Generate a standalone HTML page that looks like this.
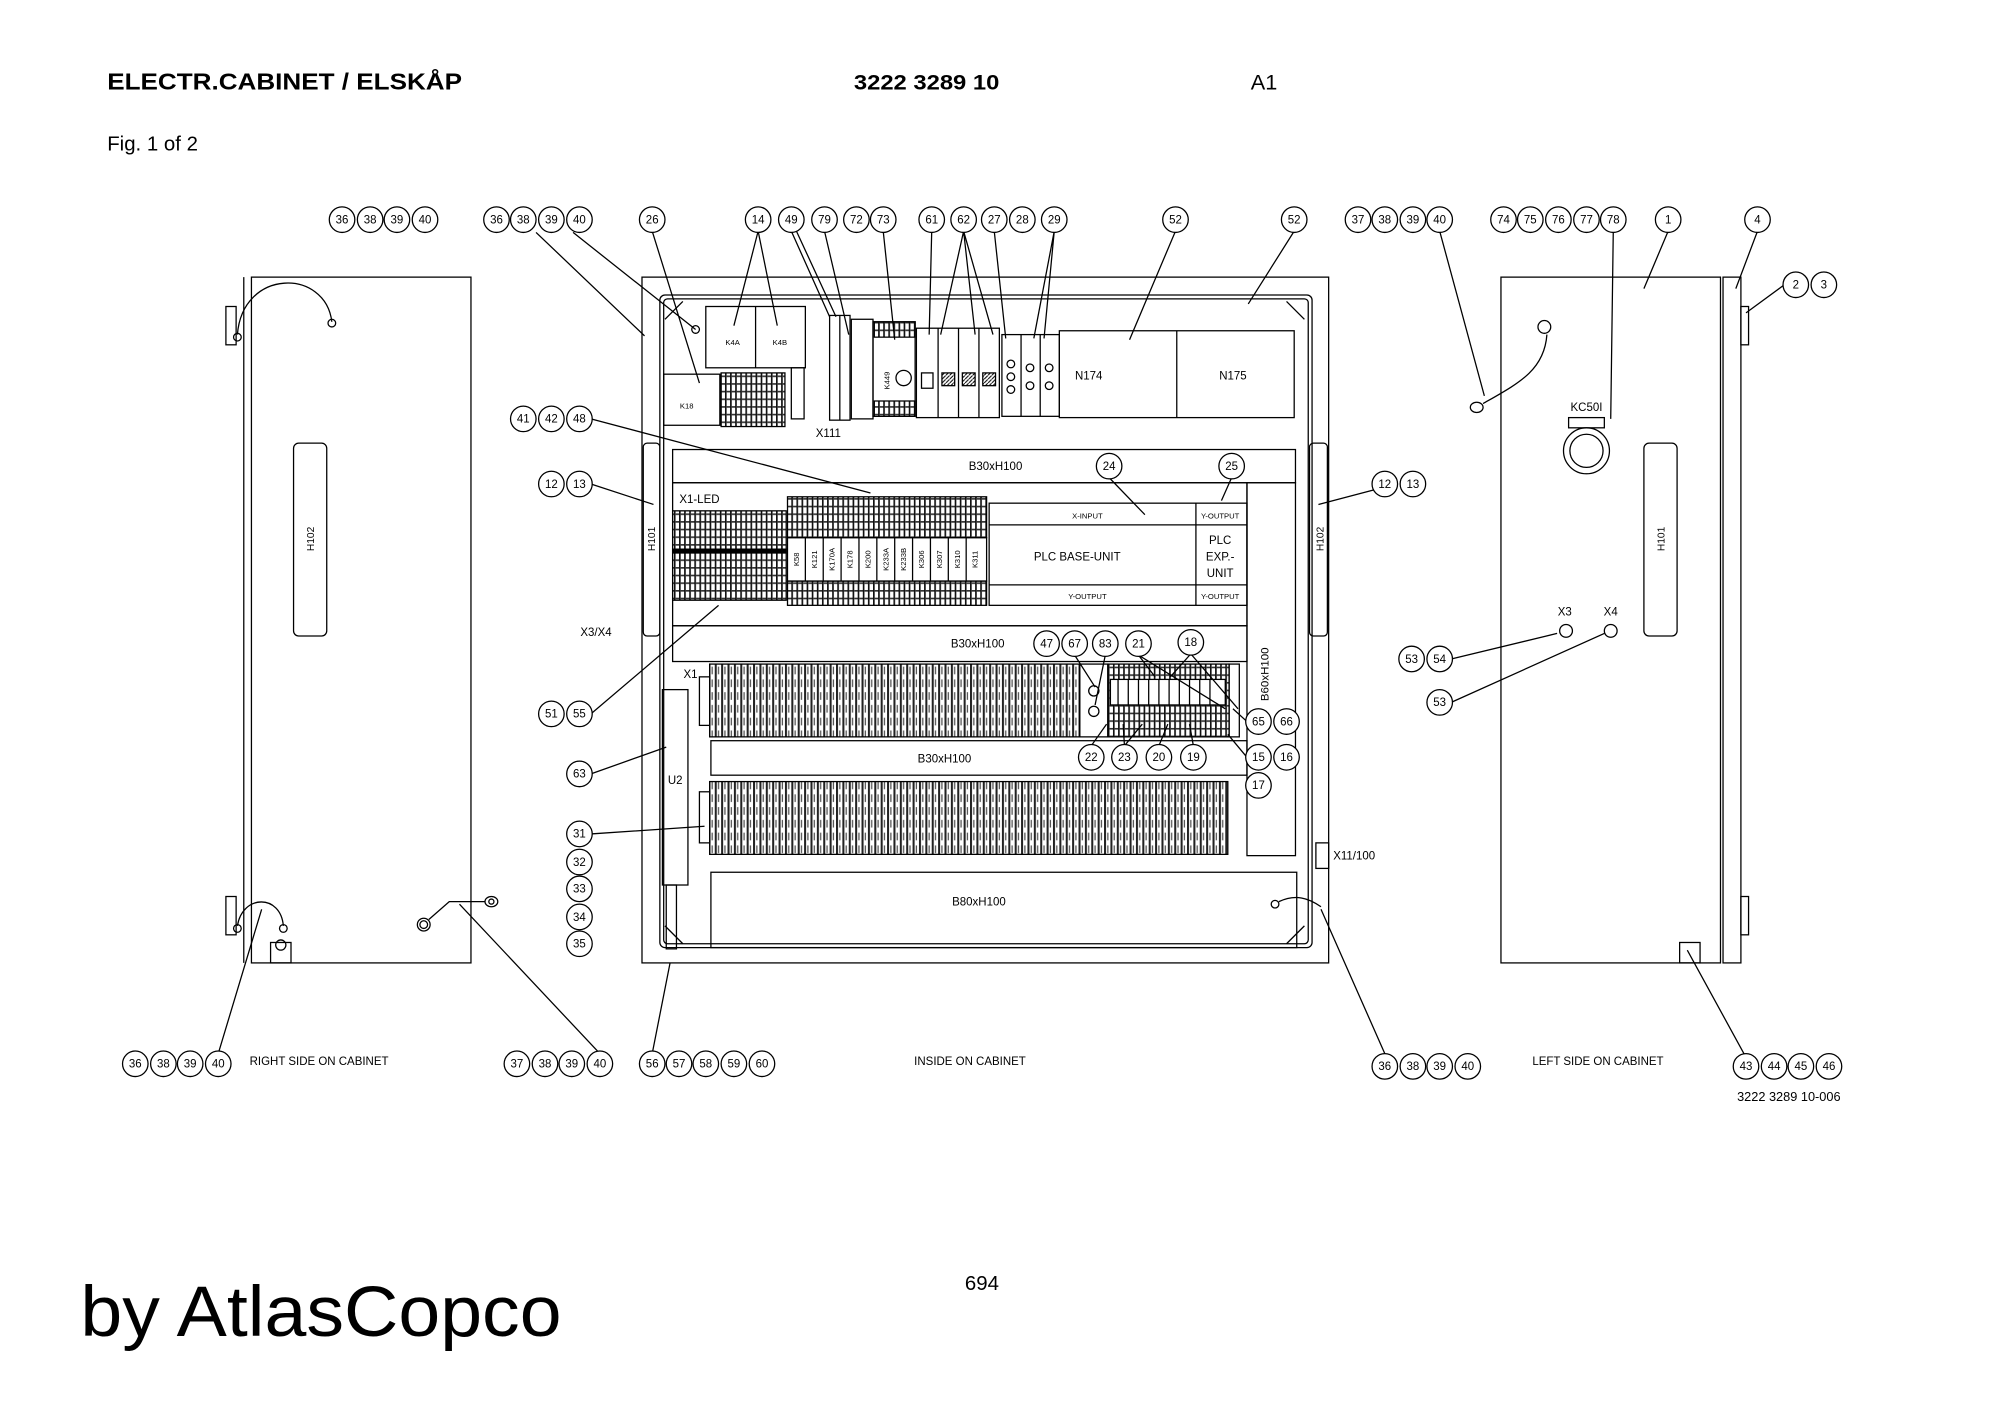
<!DOCTYPE html>
<html><head><meta charset="utf-8"><style>
html,body{margin:0;padding:0;background:#fff}
svg{display:block}
text{font-family:"Liberation Sans",sans-serif;fill:#000}
.n{font-family:"Liberation Sans Narrow","Liberation Sans",sans-serif;font-size:9px;text-anchor:middle}
.s{font-size:8px;text-anchor:middle}
</style></head><body>
<svg width="2000" height="1415" viewBox="0 0 1567 1108" preserveAspectRatio="none" xmlns="http://www.w3.org/2000/svg">
<defs>
<pattern id="tb" width="5" height="10" patternUnits="userSpaceOnUse"><rect width="5" height="10" fill="#fff"/><rect x="0" y="0" width="1.6" height="10" fill="#222"/><rect x="2.5" y="2" width="1" height="6" fill="#555"/></pattern>
<pattern id="tb2" width="4" height="6" patternUnits="userSpaceOnUse"><rect width="4" height="6" fill="#fff"/><rect x="0" width="1.3" height="6" fill="#111"/><rect x="1.3" y="0" width="2.7" height="1.3" fill="#333"/></pattern>
<pattern id="hatch" width="3" height="3" patternUnits="userSpaceOnUse"><rect width="3" height="3" fill="#fff"/><path d="M0 3L3 0" stroke="#000" stroke-width="0.8"/></pattern>
</defs>
<rect width="1567" height="1108" fill="#fff"/>
<text x="84" y="70" font-size="18" font-weight="bold" textLength="278" lengthAdjust="spacingAndGlyphs">ELECTR.CABINET / ELSKÅP</text>
<text x="669" y="70" font-size="17" font-weight="bold" textLength="114" lengthAdjust="spacingAndGlyphs">3222 3289 10</text>
<text x="980" y="70" font-size="17">A1</text>
<text x="84" y="118" font-size="16">Fig. 1 of 2</text>
<text x="63" y="1046" font-size="56" textLength="377" lengthAdjust="spacingAndGlyphs">by AtlasCopco</text>
<text x="756" y="1010" font-size="16">694</text>
<text x="1361" y="862" font-size="10">3222 3289 10-006</text>
<g fill="none" stroke="#000" stroke-width="1">
<rect x="197" y="217" width="172" height="537"/>
<line x1="191" y1="217" x2="191" y2="754"/>
<rect x="177" y="240" width="8" height="30"/><rect x="177" y="702" width="8" height="30"/>
<rect x="230" y="347" width="26" height="151" rx="4"/>
<path d="M186 262 C190 210,255 210,260 252"/><circle cx="186" cy="264" r="3"/><circle cx="260" cy="253" r="3"/>
<path d="M186 725 C190 700,220 700,222 725"/><circle cx="186" cy="727" r="3"/><circle cx="222" cy="727" r="3"/>
<rect x="212" y="738" width="16" height="16"/><circle cx="220" cy="740" r="4"/>
<circle cx="332" cy="724" r="5"/><circle cx="332" cy="724" r="3"/><path d="M336 720 L352 706 L380 706"/>
<ellipse cx="385" cy="706" rx="5" ry="4"/><circle cx="385" cy="706" r="2"/>
<rect x="503" y="217" width="538" height="537"/>
<rect x="517" y="231" width="511" height="511" rx="4"/>
<rect x="520" y="234" width="505" height="505" rx="3"/>
<rect x="504" y="347" width="13" height="151" rx="3"/>
<rect x="1026" y="347" width="14" height="151" rx="3"/>
<path d="M521 250 L535 236 M1008 236 L1022 250 M521 725 L535 739 M1008 739 L1022 725"/>
<circle cx="545" cy="258" r="3"/>
<rect x="527" y="352" width="488" height="26"/>
<rect x="527" y="378" width="450" height="112"/>
<rect x="527" y="490" width="450" height="28"/>
<rect x="557" y="580" width="420" height="27"/>
<rect x="557" y="683" width="459" height="59"/>
<rect x="977" y="378" width="38" height="292"/>
<rect x="519" y="540" width="20" height="153"/>
<rect x="522" y="693" width="8" height="50"/>
<rect x="1031" y="660" width="10" height="20"/>
<circle cx="999" cy="708" r="3"/><path d="M1002 706 C1015 700,1025 703,1035 710"/>
<rect x="553" y="240" width="78" height="48"/>
<line x1="592" y1="240" x2="592" y2="288"/>
<rect x="520" y="293" width="44" height="40"/>
<rect x="565" y="292" width="50" height="42" fill="url(#tb2)"/>
<rect x="620" y="288" width="10" height="40"/>
<rect x="650" y="247" width="16" height="82"/>
<line x1="658" y1="247" x2="658" y2="329"/>
<rect x="667" y="250" width="17" height="78"/>
<rect x="684" y="252" width="33" height="74"/>
<rect x="685" y="252" width="32" height="12" fill="url(#tb2)"/><rect x="685" y="314" width="32" height="12" fill="url(#tb2)"/>
<circle cx="708" cy="296" r="6"/>
<rect x="718" y="257" width="65" height="70"/>
<line x1="735" y1="257" x2="735" y2="327"/><line x1="751" y1="257" x2="751" y2="327"/><line x1="767" y1="257" x2="767" y2="327"/>
<rect x="738" y="292" width="10" height="10" fill="url(#hatch)"/><rect x="754" y="292" width="10" height="10" fill="url(#hatch)"/><rect x="770" y="292" width="10" height="10" fill="url(#hatch)"/><rect x="722" y="292" width="9" height="12"/>
<rect x="785" y="262" width="45" height="64"/>
<line x1="800" y1="262" x2="800" y2="326"/><line x1="815" y1="262" x2="815" y2="326"/>
<circle cx="792" cy="285" r="3"/><circle cx="792" cy="295" r="3"/><circle cx="792" cy="305" r="3"/>
<circle cx="807" cy="288" r="3"/><circle cx="807" cy="302" r="3"/><circle cx="822" cy="288" r="3"/><circle cx="822" cy="302" r="3"/>
<rect x="830" y="259" width="184" height="68"/><line x1="922" y1="259" x2="922" y2="327"/>
<rect x="527" y="400" width="89" height="70" fill="url(#tb2)"/>
<rect x="527" y="430" width="89" height="3" fill="#000"/>
<rect x="617" y="389" width="156" height="32" fill="url(#tb2)"/>
<rect x="617" y="455" width="156" height="19" fill="url(#tb2)"/>
<rect x="617" y="421" width="156" height="34"/>
<path d="M631 421V455M645 421V455M659 421V455M673 421V455M687 421V455M701 421V455M715 421V455M729 421V455M743 421V455M757 421V455"/>
<rect x="775" y="394" width="202" height="80"/>
<line x1="775" y1="411" x2="977" y2="411"/><line x1="775" y1="458" x2="977" y2="458"/><line x1="937" y1="394" x2="937" y2="474"/>
<rect x="556" y="520" width="290" height="57" fill="url(#tb)"/>
<rect x="548" y="530" width="8" height="38"/>
<rect x="846" y="520" width="22" height="57"/>
<circle cx="857" cy="541" r="4"/><circle cx="857" cy="557" r="4"/>
<rect x="868" y="520" width="95" height="57" fill="url(#tb2)"/>
<rect x="870" y="532" width="90" height="20" fill="#fff"/>
<path d="M876 532V552M884 532V552M892 532V552M900 532V552M908 532V552M916 532V552M924 532V552M932 532V552M940 532V552M948 532V552"/>
<rect x="963" y="520" width="8" height="57"/>
<rect x="556" y="612" width="406" height="57" fill="url(#tb)"/>
<rect x="548" y="620" width="8" height="40"/>
<rect x="1176" y="217" width="172" height="537"/>
<rect x="1350" y="217" width="14" height="537"/>
<rect x="1364" y="240" width="6" height="30"/><rect x="1364" y="702" width="6" height="30"/>
<rect x="1288" y="347" width="26" height="151" rx="4"/>
<circle cx="1243" cy="353" r="18"/><circle cx="1243" cy="353" r="13"/>
<rect x="1229" y="327" width="28" height="8"/>
<circle cx="1210" cy="256" r="5"/><path d="M1212 262 C1210 290,1190 300,1162 316"/>
<ellipse cx="1157" cy="319" rx="5" ry="4"/>
<circle cx="1227" cy="494" r="5"/><circle cx="1262" cy="494" r="5"/>
<rect x="1316" y="738" width="16" height="16"/>
<path d="M420 182 L505 263 M449 182 L545 258 M511 181 L548 300 M594 181 L575 255 M594 181 L609 255 M624 181 L655 248 M620 181 L650 248 M646 181 L665 262 M692 181 L701 266 M730 181 L728 262 M755 181 L737 262 M755 181 L764 262 M755 181 L778 262 M779 181 L788 265 M826 181 L810 265 M826 181 L818 265 M921 181 L885 266 M1014 181 L978 238 M1128 181 L1163 310 M1264 181 L1262 328 M1307 181 L1288 226 M1377 181 L1360 226 M1398 223 L1368 245"/>
<path d="M463 328 L682 386 M463 379 L512 395 M463 559 L563 474 M463 606 L522 585 M463 653 L552 647 M171 825 L205 712 M470 825 L360 708 M511 825 L525 754 M1085 825 L1035 712 M1368 828 L1322 744"/>
<path d="M1094 379 L1033 395 M1137 516 L1220 496 M1137 550 L1257 496"/>
<path d="M869 374 L897 403 M965 374 L957 392 M842 513 L858 538 M866 513 L858 552 M892 513 L905 530 M892 513 L960 555 M933 512 L917 530 M933 512 L970 555 M977 565 L966 555 M855 584 L867 567 M881 584 L880 567 M881 584 L895 567 M908 584 L915 567 M935 584 L932 567 M977 593 L962 575"/>
</g>
<g fill="#fff" stroke="#000" stroke-width="1">
<circle cx="268" cy="172" r="10"/><circle cx="290" cy="172" r="10"/><circle cx="311" cy="172" r="10"/><circle cx="333" cy="172" r="10"/>
<circle cx="389" cy="172" r="10"/><circle cx="410" cy="172" r="10"/><circle cx="432" cy="172" r="10"/><circle cx="454" cy="172" r="10"/>
<circle cx="511" cy="172" r="10"/><circle cx="594" cy="172" r="10"/><circle cx="620" cy="172" r="10"/><circle cx="646" cy="172" r="10"/><circle cx="671" cy="172" r="10"/><circle cx="692" cy="172" r="10"/>
<circle cx="730" cy="172" r="10"/><circle cx="755" cy="172" r="10"/><circle cx="779" cy="172" r="10"/><circle cx="801" cy="172" r="10"/><circle cx="826" cy="172" r="10"/>
<circle cx="921" cy="172" r="10"/><circle cx="1014" cy="172" r="10"/>
<circle cx="1064" cy="172" r="10"/><circle cx="1085" cy="172" r="10"/><circle cx="1107" cy="172" r="10"/><circle cx="1128" cy="172" r="10"/>
<circle cx="1178" cy="172" r="10"/><circle cx="1199" cy="172" r="10"/><circle cx="1221" cy="172" r="10"/><circle cx="1243" cy="172" r="10"/><circle cx="1264" cy="172" r="10"/>
<circle cx="1307" cy="172" r="10"/><circle cx="1377" cy="172" r="10"/><circle cx="1407" cy="223" r="10"/><circle cx="1429" cy="223" r="10"/>
<circle cx="410" cy="328" r="10"/><circle cx="432" cy="328" r="10"/><circle cx="454" cy="328" r="10"/>
<circle cx="432" cy="379" r="10"/><circle cx="454" cy="379" r="10"/>
<circle cx="432" cy="559" r="10"/><circle cx="454" cy="559" r="10"/><circle cx="454" cy="606" r="10"/>
<circle cx="454" cy="653" r="10"/><circle cx="454" cy="675" r="10"/><circle cx="454" cy="696" r="10"/><circle cx="454" cy="718" r="10"/><circle cx="454" cy="739" r="10"/>
<circle cx="106" cy="833" r="10"/><circle cx="128" cy="833" r="10"/><circle cx="149" cy="833" r="10"/><circle cx="171" cy="833" r="10"/>
<circle cx="405" cy="833" r="10"/><circle cx="427" cy="833" r="10"/><circle cx="448" cy="833" r="10"/><circle cx="470" cy="833" r="10"/>
<circle cx="511" cy="833" r="10"/><circle cx="532" cy="833" r="10"/><circle cx="553" cy="833" r="10"/><circle cx="575" cy="833" r="10"/><circle cx="597" cy="833" r="10"/>
<circle cx="1085" cy="835" r="10"/><circle cx="1107" cy="835" r="10"/><circle cx="1128" cy="835" r="10"/><circle cx="1150" cy="835" r="10"/>
<circle cx="1368" cy="835" r="10"/><circle cx="1390" cy="835" r="10"/><circle cx="1411" cy="835" r="10"/><circle cx="1433" cy="835" r="10"/>
<circle cx="869" cy="365" r="10"/><circle cx="965" cy="365" r="10"/>
<circle cx="820" cy="504" r="10"/><circle cx="842" cy="504" r="10"/><circle cx="866" cy="504" r="10"/><circle cx="892" cy="504" r="10"/><circle cx="933" cy="503" r="10"/>
<circle cx="986" cy="565" r="10"/><circle cx="1008" cy="565" r="10"/>
<circle cx="855" cy="593" r="10"/><circle cx="881" cy="593" r="10"/><circle cx="908" cy="593" r="10"/><circle cx="935" cy="593" r="10"/>
<circle cx="986" cy="593" r="10"/><circle cx="1008" cy="593" r="10"/><circle cx="986" cy="615" r="10"/>
<circle cx="1085" cy="379" r="10"/><circle cx="1107" cy="379" r="10"/>
<circle cx="1106" cy="516" r="10"/><circle cx="1128" cy="516" r="10"/><circle cx="1128" cy="550" r="10"/>
</g>
<g class="n">
<text x="268" y="175" class="n">36</text><text x="290" y="175" class="n">38</text><text x="311" y="175" class="n">39</text><text x="333" y="175" class="n">40</text>
<text x="389" y="175" class="n">36</text><text x="410" y="175" class="n">38</text><text x="432" y="175" class="n">39</text><text x="454" y="175" class="n">40</text>
<text x="511" y="175" class="n">26</text><text x="594" y="175" class="n">14</text><text x="620" y="175" class="n">49</text><text x="646" y="175" class="n">79</text><text x="671" y="175" class="n">72</text><text x="692" y="175" class="n">73</text>
<text x="730" y="175" class="n">61</text><text x="755" y="175" class="n">62</text><text x="779" y="175" class="n">27</text><text x="801" y="175" class="n">28</text><text x="826" y="175" class="n">29</text>
<text x="921" y="175" class="n">52</text><text x="1014" y="175" class="n">52</text>
<text x="1064" y="175" class="n">37</text><text x="1085" y="175" class="n">38</text><text x="1107" y="175" class="n">39</text><text x="1128" y="175" class="n">40</text>
<text x="1178" y="175" class="n">74</text><text x="1199" y="175" class="n">75</text><text x="1221" y="175" class="n">76</text><text x="1243" y="175" class="n">77</text><text x="1264" y="175" class="n">78</text>
<text x="1307" y="175" class="n">1</text><text x="1377" y="175" class="n">4</text><text x="1407" y="226" class="n">2</text><text x="1429" y="226" class="n">3</text>
<text x="410" y="331" class="n">41</text><text x="432" y="331" class="n">42</text><text x="454" y="331" class="n">48</text>
<text x="432" y="382" class="n">12</text><text x="454" y="382" class="n">13</text>
<text x="432" y="562" class="n">51</text><text x="454" y="562" class="n">55</text><text x="454" y="609" class="n">63</text>
<text x="454" y="656" class="n">31</text><text x="454" y="678" class="n">32</text><text x="454" y="699" class="n">33</text><text x="454" y="721" class="n">34</text><text x="454" y="742" class="n">35</text>
<text x="106" y="836" class="n">36</text><text x="128" y="836" class="n">38</text><text x="149" y="836" class="n">39</text><text x="171" y="836" class="n">40</text>
<text x="405" y="836" class="n">37</text><text x="427" y="836" class="n">38</text><text x="448" y="836" class="n">39</text><text x="470" y="836" class="n">40</text>
<text x="511" y="836" class="n">56</text><text x="532" y="836" class="n">57</text><text x="553" y="836" class="n">58</text><text x="575" y="836" class="n">59</text><text x="597" y="836" class="n">60</text>
<text x="1085" y="838" class="n">36</text><text x="1107" y="838" class="n">38</text><text x="1128" y="838" class="n">39</text><text x="1150" y="838" class="n">40</text>
<text x="1368" y="838" class="n">43</text><text x="1390" y="838" class="n">44</text><text x="1411" y="838" class="n">45</text><text x="1433" y="838" class="n">46</text>
<text x="869" y="368" class="n">24</text><text x="965" y="368" class="n">25</text>
<text x="820" y="507" class="n">47</text><text x="842" y="507" class="n">67</text><text x="866" y="507" class="n">83</text><text x="892" y="507" class="n">21</text><text x="933" y="506" class="n">18</text>
<text x="986" y="568" class="n">65</text><text x="1008" y="568" class="n">66</text>
<text x="855" y="596" class="n">22</text><text x="881" y="596" class="n">23</text><text x="908" y="596" class="n">20</text><text x="935" y="596" class="n">19</text>
<text x="986" y="596" class="n">15</text><text x="1008" y="596" class="n">16</text><text x="986" y="618" class="n">17</text>
<text x="1085" y="382" class="n">12</text><text x="1107" y="382" class="n">13</text>
<text x="1106" y="519" class="n">53</text><text x="1128" y="519" class="n">54</text><text x="1128" y="553" class="n">53</text>
</g>
<g class="n">
<text x="780" y="368" class="n">B30xH100</text>
<text x="766" y="507" class="n">B30xH100</text>
<text x="740" y="597" class="n">B30xH100</text>
<text x="767" y="709" class="n">B80xH100</text>
<text x="853" y="297" class="n">N174</text><text x="966" y="297" class="n">N175</text>
<text x="649" y="342" class="n">X111</text>
<text x="548" y="394" class="n">X1-LED</text>
<text x="541" y="531" class="n">X1</text>
<text x="529" y="614" class="n">U2</text>
<text x="467" y="498" class="n">X3/X4</text>
<text x="1061" y="673" class="n">X11/100</text>
<text x="844" y="439" class="n">PLC BASE-UNIT</text>
<text x="852" y="406" class="s" style="font-size:6px">X-INPUT</text>
<text x="852" y="469" class="s" style="font-size:6px">Y-OUTPUT</text>
<text x="956" y="406" class="s" style="font-size:6px">Y-OUTPUT</text>
<text x="956" y="469" class="s" style="font-size:6px">Y-OUTPUT</text>
<text x="956" y="426" class="n">PLC</text><text x="956" y="439" class="n">EXP.-</text><text x="956" y="452" class="n">UNIT</text>
<text x="1243" y="322" class="n">KC50I</text>
<text x="1226" y="482" class="n">X3</text><text x="1262" y="482" class="n">X4</text>
<text x="250" y="834" class="n">RIGHT SIDE ON CABINET</text>
<text x="760" y="834" class="n">INSIDE ON CABINET</text>
<text x="1252" y="834" class="n">LEFT SIDE ON CABINET</text>
</g>
<text x="0" y="0" class="s" transform="translate(246 422) rotate(-90)">H102</text>
<text x="0" y="0" class="s" transform="translate(513 422) rotate(-90)">H101</text>
<text x="0" y="0" class="s" transform="translate(1037 422) rotate(-90)">H102</text>
<text x="0" y="0" class="s" transform="translate(1304 422) rotate(-90)">H101</text>
<text x="0" y="0" class="n" transform="translate(994 528) rotate(-90)">B60xH100</text>
<g class="s" style="font-size:6px">
<text x="0" y="0" transform="translate(626 438) rotate(-90)">K58</text><text x="0" y="0" transform="translate(640 438) rotate(-90)">K121</text><text x="0" y="0" transform="translate(654 438) rotate(-90)">K170A</text><text x="0" y="0" transform="translate(668 438) rotate(-90)">K178</text><text x="0" y="0" transform="translate(682 438) rotate(-90)">K200</text><text x="0" y="0" transform="translate(696 438) rotate(-90)">K233A</text><text x="0" y="0" transform="translate(710 438) rotate(-90)">K233B</text><text x="0" y="0" transform="translate(724 438) rotate(-90)">K306</text><text x="0" y="0" transform="translate(738 438) rotate(-90)">K307</text><text x="0" y="0" transform="translate(752 438) rotate(-90)">K310</text><text x="0" y="0" transform="translate(766 438) rotate(-90)">K311</text>
<text x="0" y="0" transform="translate(697 298) rotate(-90)">K449</text>
<text x="574" y="270">K4A</text><text x="611" y="270">K4B</text><text x="538" y="320">K18</text>
</g>
</svg>
</body></html>
